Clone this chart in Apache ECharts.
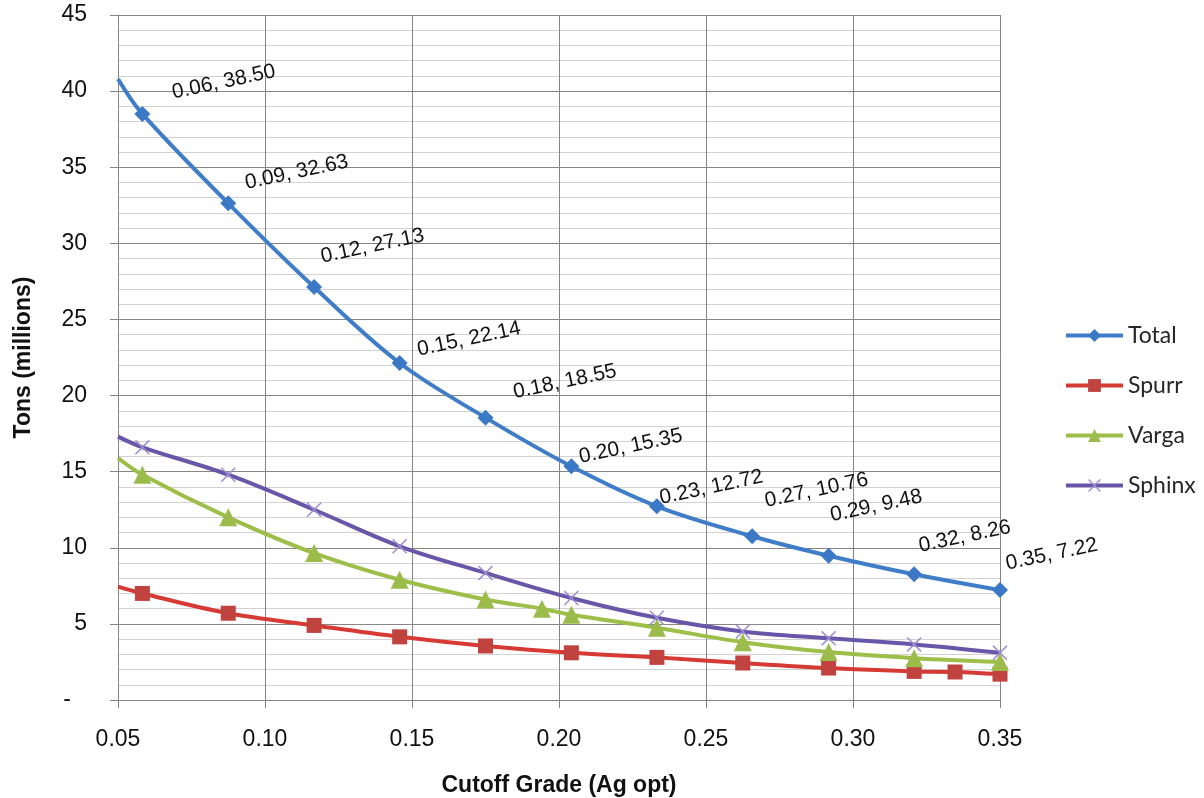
<!DOCTYPE html>
<html><head><meta charset="utf-8">
<script src="https://cdn.jsdelivr.net/npm/echarts@6/dist/echarts.min.js"></script>
<style>html,body{margin:0;padding:0;background:#fff}#c{width:1204px;height:798px}</style>
</head><body><div id="c"></div>
<script>
// ---- data ----
const seriesNames = ['Total', 'Spurr', 'Varga', 'Sphinx'];

const totalX = [0.05, 0.0583, 0.0875, 0.1167, 0.1458, 0.175, 0.2042, 0.2333, 0.2657, 0.2917, 0.3208, 0.35];
const totalY = [40.8, 38.50, 32.63, 27.13, 22.14, 18.55, 15.35, 12.72, 10.76, 9.48, 8.26, 7.22];

const spurrX = [0.05, 0.0583, 0.0875, 0.1167, 0.1458, 0.175, 0.2042, 0.2333, 0.2625, 0.2917, 0.3208, 0.3347, 0.35];
const spurrY = [7.45, 7.0, 5.7, 4.9, 4.15, 3.55, 3.1, 2.8, 2.43, 2.1, 1.88, 1.84, 1.7];

const vargaX = [0.05, 0.0583, 0.0875, 0.1167, 0.1458, 0.175, 0.1942, 0.2042, 0.2333, 0.2625, 0.2917, 0.3208, 0.35];
const vargaY = [15.9, 14.8, 12.0, 9.65, 7.9, 6.6, 6.0, 5.6, 4.75, 3.8, 3.15, 2.75, 2.5];

const sphinxX = [0.05, 0.0583, 0.0875, 0.1167, 0.1458, 0.175, 0.2042, 0.2333, 0.2625, 0.2917, 0.3208, 0.35];
const sphinxY = [17.3, 16.6, 14.8, 12.5, 10.1, 8.35, 6.7, 5.4, 4.5, 4.05, 3.65, 3.1];

const xTicks = {min: 0.05, max: 0.35, step: 0.05};
const yTicks = {min: 0, max: 45, step: 5};

// ---- styles ----
const colors = ['#3F7DC8', '#D63A34', '#9DBE48', '#6A56A8'];
const markerColors = ['#3B78C6', '#C0433F', '#9BBB4A', '#9A8ED2'];
// label placement (text left-middle relative to the point, px) for the Total labels
const totalLabelShift = [null, [30,-21], [17,-20], [7,-30], [18,-13], [28,-25], [8,-9], [3,-8], [13,-35], [2,-40], [5,-28], [6,-26]];
const TOTAL_SYM = 16;

const xPath = 'path://M1,0 L7,6 L13,0 L14,1 L8,7 L14,13 L13,14 L7,8 L1,14 L0,13 L6,7 L0,1 Z';

function fmtX(v){ return (v + 1e-9).toFixed(2); }

function buildData(xs, ys, withLabels){
  return xs.map((x, i) => {
    if (i === 0 && x <= xTicks.min) return {value: [x, ys[i]], symbol: 'none'};
    if (withLabels && totalLabelShift[i]) {
      const s = totalLabelShift[i];
      return {value: [x, ys[i]], label: {show: true, position: [TOTAL_SYM/2 + s[0], TOTAL_SYM/2 + s[1]]}};
    }
    return [x, ys[i]];
  });
}

const chart = echarts.init(document.getElementById('c'), null, {renderer: 'canvas'});

function lineSeries(name, xs, ys, idx, symbol, size, extra){
  return Object.assign({
    name: name,
    type: 'line',
    smooth: 0.35,
    symbol: symbol,
    symbolSize: size,
    showAllSymbol: true,
    clip: true,
    lineStyle: {width: 4, color: colors[idx]},
    itemStyle: {color: markerColors[idx], borderWidth: 0},
    data: buildData(xs, ys, false),
    animation: false
  }, extra || {});
}

const option = {
  backgroundColor: '#ffffff',
  animation: false,
  grid: {left: 118, right: 204, top: 15, bottom: 98, containLabel: false, outerBoundsMode: 'none'},
  legend: {
    orient: 'vertical',
    left: 1059,
    top: 319,
    itemWidth: 57,
    itemHeight: 16,
    itemGap: 27,
    lineStyle: {width: 4},
    textStyle: {fontFamily: 'Lato', fontSize: 23, color: '#262626', padding: [0,0,0,0]},
    data: seriesNames
  },
  xAxis: {
    type: 'value',
    min: xTicks.min, max: xTicks.max, interval: xTicks.step,
    name: 'Cutoff Grade (Ag opt)',
    nameLocation: 'middle',
    nameGap: 74,
    nameTextStyle: {fontFamily: 'Liberation Sans', fontWeight: 'bold', fontSize: 23, color: '#111'},
    axisLine: {show: true, onZero: false, lineStyle: {color: '#868686', width: 1}},
    axisTick: {show: true, length: 8, lineStyle: {color: '#868686'}},
    axisLabel: {margin: 28, fontFamily: 'Liberation Sans', fontSize: 23, color: '#111', formatter: v => fmtX(v)},
    splitLine: {show: true, lineStyle: {color: '#868686', width: 1}}
  },
  yAxis: {
    type: 'value',
    min: yTicks.min, max: yTicks.max, interval: yTicks.step,
    name: 'Tons (millions)',
    nameLocation: 'middle',
    nameGap: 83,
    nameTextStyle: {fontFamily: 'Liberation Sans', fontWeight: 'bold', fontSize: 23, color: '#111'},
    axisLine: {show: true, lineStyle: {color: '#868686', width: 1}},
    axisTick: {show: true, length: 8, lineStyle: {color: '#868686'}},
    axisLabel: {margin: 31, fontFamily: 'Liberation Sans', fontSize: 23, color: '#111',
      formatter: v => v === 0 ? '-\u2002\u2009' : String(v)},
    splitLine: {show: true, lineStyle: {color: '#868686', width: 1}},
    minorTick: {show: false, splitNumber: 5},
    minorSplitLine: {show: true, lineStyle: {color: '#d2d2d2', width: 1}}
  },
  series: [
    lineSeries('Total', totalX, totalY, 0, 'diamond', TOTAL_SYM, {
      data: buildData(totalX, totalY, true),
      label: {
        show: false,
        rotate: 12,
        align: 'left',
        verticalAlign: 'middle',
        fontFamily: 'Liberation Sans',
        fontSize: 21,
        color: '#111',
        formatter: p => fmtX(p.value[0]) + ', ' + p.value[1].toFixed(2)
      },
      z: 5
    }),
    lineSeries('Spurr', spurrX, spurrY, 1, 'rect', 15, {z: 2}),
    lineSeries('Varga', vargaX, vargaY, 2, 'triangle', 18, {z: 3}),
    lineSeries('Sphinx', sphinxX, sphinxY, 3, xPath, 15, {z: 4})
  ]
};
chart.setOption(option);
</script></body></html>
